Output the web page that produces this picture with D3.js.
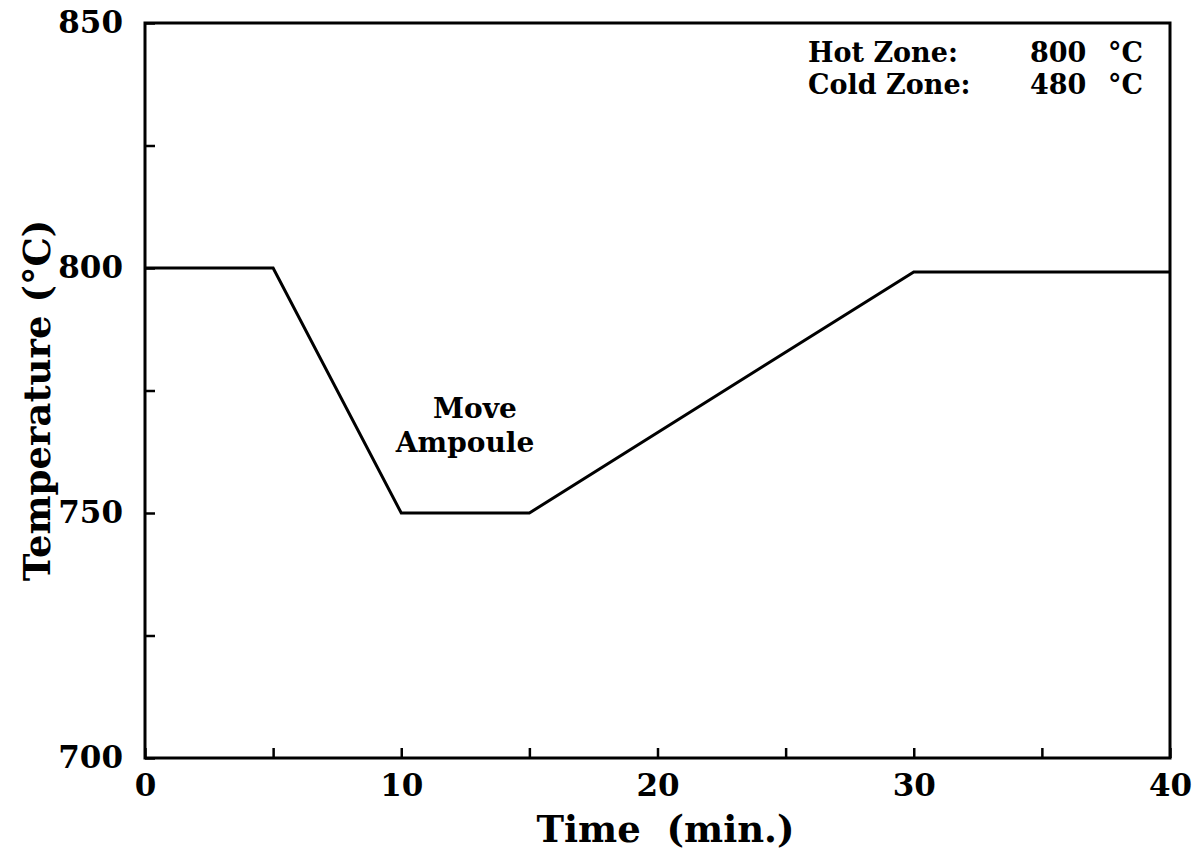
<!DOCTYPE html>
<html>
<head>
<meta charset="utf-8">
<script src="https://cdn.jsdelivr.net/npm/d3@7"></script>
<style>
  html, body { margin: 0; padding: 0; background: #fff; }
  svg { display: block; }
  text { font-family: "DejaVu Serif", serif; font-weight: bold; fill: #000; }
</style>
</head>
<body>
<svg id="chart" width="1203" height="852"></svg>
<script>
// Data
const timeMin = [0, 5, 10, 15, 30, 40];
const tempC = [800, 800, 750, 750, 799.2, 799.2];
const xTicks = [0, 5, 10, 15, 20, 25, 30, 35, 40];
const xTickLabels = ["0", "", "10", "", "20", "", "30", "", "40"];
const yTicks = [700, 725, 750, 775, 800, 825, 850];
const yTickLabels = ["700", "", "750", "", "800", "", "850"];
const hotZone = ["Hot Zone:", "800", "°C"];
const coldZone = ["Cold Zone:", "480", "°C"];
const noteLines = ["Move", "Ampoule"];

const svg = d3.select("#chart");
const m = { left: 145, right: 1170, top: 23, bottom: 758 };

const x = d3.scaleLinear().domain([0, 40]).range([m.left, m.right]);
const y = d3.scaleLinear().domain([700, 850]).range([m.bottom, m.top]);

// X axis
const xAxis = d3.axisBottom(x)
  .tickValues(xTicks)
  .tickFormat((d, i) => xTickLabels[i])
  .tickSizeInner(-10).tickSizeOuter(0).tickPadding(16);
const gx = svg.append("g").attr("transform", `translate(0,${m.bottom})`).call(xAxis);
gx.select(".domain").remove();
gx.selectAll(".tick line").attr("stroke", "#000").attr("stroke-width", 2.5);
gx.selectAll(".tick text").style("font-size", "31px").attr("fill", "#000");

// Y axis
const yAxis = d3.axisLeft(y)
  .tickValues(yTicks)
  .tickFormat((d, i) => yTickLabels[i])
  .tickSizeInner(-10).tickSizeOuter(0).tickPadding(22);
const gy = svg.append("g").attr("transform", `translate(${m.left},0)`).call(yAxis);
gy.select(".domain").remove();
gy.selectAll(".tick line").attr("stroke", "#000").attr("stroke-width", 2.5);
gy.selectAll(".tick text").style("font-size", "31px").attr("fill", "#000");

// Frame
svg.append("rect")
  .attr("x", m.left).attr("y", m.top)
  .attr("width", m.right - m.left).attr("height", m.bottom - m.top)
  .attr("fill", "none").attr("stroke", "#000").attr("stroke-width", 3);

// Line
const line = d3.line().x((d, i) => x(timeMin[i])).y(d => y(d));
svg.append("path")
  .datum(tempC)
  .attr("d", line)
  .attr("fill", "none")
  .attr("stroke", "#000")
  .attr("stroke-width", 3)
  .attr("stroke-linejoin", "miter");

// Axis titles
svg.append("text")
  .attr("x", (m.left + m.right) / 2 + 8).attr("y", 842)
  .attr("text-anchor", "middle")
  .style("font-size", "37px")
  .attr("xml:space", "preserve")
  .text("Time  (min.)");

svg.append("text")
  .attr("transform", `translate(50,${(m.top + m.bottom) / 2 + 10}) rotate(-90)`)
  .attr("text-anchor", "middle")
  .style("font-size", "37px")
  .text("Temperature (°C)");

// Zone annotation
const zoneX = [808, 1030, 1108];
[[hotZone, 62], [coldZone, 94]].forEach(([parts, yy]) => {
  const t = svg.append("text").attr("y", yy).style("font-size", "27px");
  parts.forEach((p, i) => t.append("tspan").attr("x", zoneX[i]).text(p));
});

// Move Ampoule note
svg.append("text").attr("x", 475).attr("y", 418).attr("text-anchor", "middle")
  .style("font-size", "28px").text(noteLines[0]);
svg.append("text").attr("x", 465).attr("y", 452).attr("text-anchor", "middle")
  .style("font-size", "28px").text(noteLines[1]);
</script>
</body>
</html>
